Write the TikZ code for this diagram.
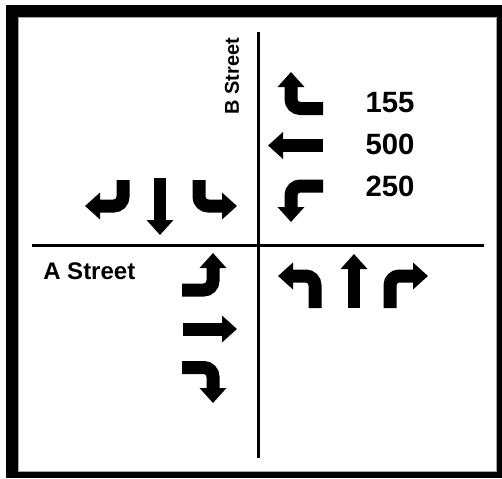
\documentclass[tikz,border=0pt]{standalone}
\usepackage{fontspec}
\setmainfont{Liberation Sans}
\usetikzlibrary{arrows.meta}
\tikzset{
  mv/.style={line width=9.75pt, line cap=butt, rounded corners=7pt,
    -{Triangle[length=11.25pt,width=19.5pt]}},
  thru/.style={mv, line width=8.5pt},
  road/.style={line width=2.25pt},
  lbl/.style={inner sep=0pt, font=\fontsize{18pt}{21pt}\selectfont\bfseries},
  blbl/.style={inner sep=0pt, font=\fontsize{15pt}{18pt}\selectfont\bfseries},
  num/.style={inner sep=0pt, font=\fontsize{22pt}{26pt}\selectfont\bfseries}
}
\begin{document}
\begin{tikzpicture}[x=0.75pt,y=-0.75pt]
\useasboundingbox (0,0) rectangle (502,478);
\fill[black] (6,5) rectangle (502,478);
\fill[white] (18,17) rectangle (496,471);
\draw[gray!70, line width=0.6pt] (18,17) rectangle (496,471);
% roads
\coordinate (hw) at (32,245); \coordinate (he) at (484,245);
\coordinate (vn) at (258,32); \coordinate (vs) at (258,458);
\draw[road] (hw) -- (he);
\draw[road] (vn) -- (vs);
% labels
\node[lbl, anchor=base west] (astreet) at (43,279) {A Street};
\node[blbl, rotate=90] (bstreet) at (232,76) {B Street};
\node[num] (n155) at (390,102.5) {155};
\node[num] (n500) at (390,144) {500};
\node[num] (n250) at (390,186) {250};
% NE quadrant
\draw[mv] (323,108.5) -- (291,108.5) -- (291,72);
\draw[mv] (323,145.5) -- (268,145.5);
\draw[mv] (323,186) -- (291,186) -- (291,222);
% SW quadrant
\draw[mv] (182,290) -- (213,290) -- (213,253);
\draw[mv] (183,329) -- (237,329);
\draw[mv] (182,367.5) -- (213,367.5) -- (213,403);
% NW quadrant
\draw[mv] (123,180) -- (123,206) -- (85,206);
\draw[thru] (160,178) -- (160,235);
\draw[mv] (199,180) -- (199,206) -- (237,206);
% SE quadrant
\draw[mv] (315,308) -- (315,276) -- (278,276);
\draw[thru] (354,308) -- (354,254);
\draw[mv] (390,308) -- (390,276) -- (428,276);
\end{tikzpicture}
\end{document}
